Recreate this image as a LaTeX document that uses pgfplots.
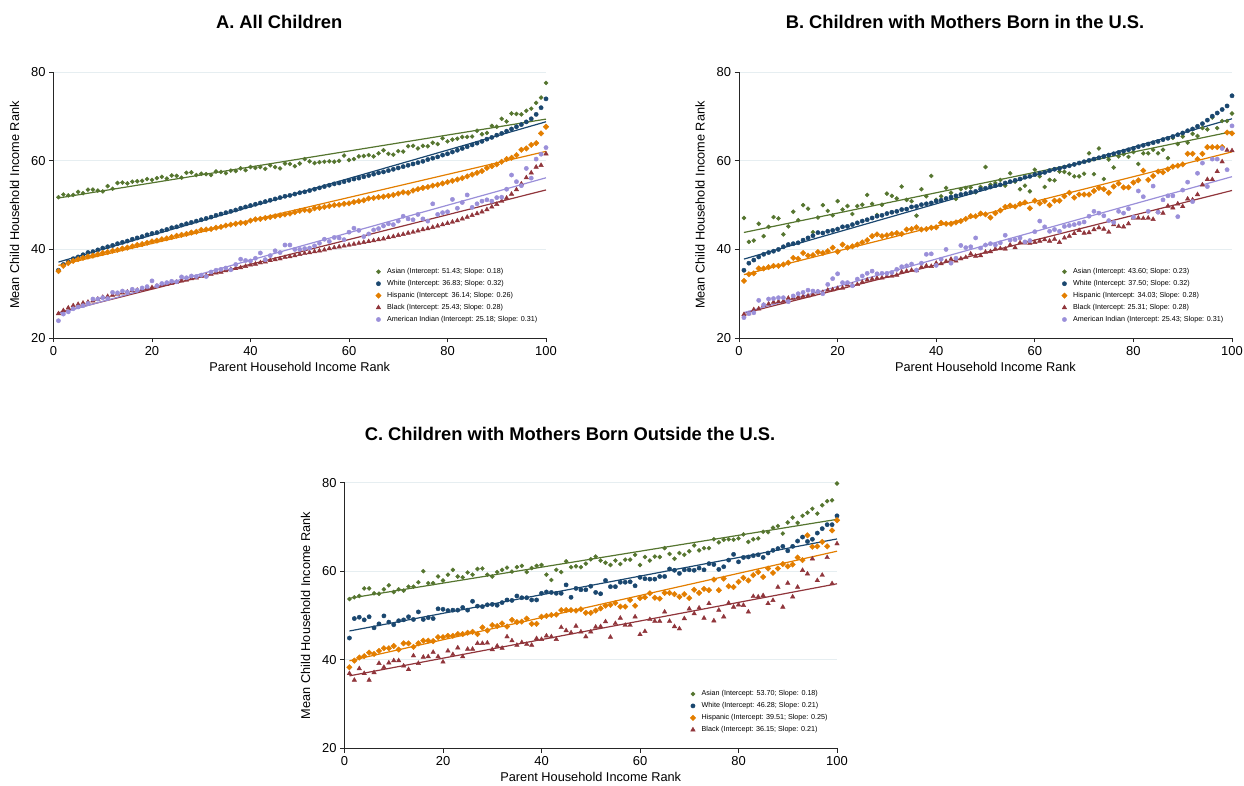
\documentclass[border=0pt]{standalone}
\usepackage{fontspec}
\setmainfont{Liberation Sans}
\usepackage{pgfplots}
\usepackage{pgfplotstable}
\pgfplotsset{compat=1.18}
\definecolor{cAs}{HTML}{55752F}
\definecolor{cWh}{HTML}{1A476F}
\definecolor{cHi}{HTML}{E37E00}
\definecolor{cBl}{HTML}{90353B}
\definecolor{cAI}{HTML}{9A8FD9}
\definecolor{gridc}{HTML}{E6EEF1}

\pgfplotstableread{
x as wh hi bl ai
1 51.8 35.3 35.1 25.5 23.9
2 52.4 36.6 36.3 26.2 25.4
3 52.2 37.2 36.9 26.8 25.9
4 52.3 37.9 37.4 27.3 26.6
5 53.0 38.3 37.8 27.6 27.0
6 52.7 38.8 38.1 27.9 27.3
7 53.5 39.3 38.4 28.1 27.8
8 53.5 39.5 38.6 28.4 28.8
9 53.3 39.9 38.9 28.8 28.8
10 53.1 40.3 39.2 29.2 29.1
11 54.3 40.6 39.4 29.4 28.9
12 53.7 40.9 39.7 29.7 30.3
13 55.0 41.3 39.9 29.9 30.2
14 55.1 41.6 40.2 30.2 30.6
15 54.9 41.9 40.4 30.4 30.4
16 55.3 42.3 40.7 30.7 31.0
17 55.4 42.6 41.0 30.8 30.8
18 55.5 42.9 41.2 31.0 31.3
19 55.9 43.3 41.5 31.2 31.6
20 55.7 43.6 41.8 31.4 32.9
21 56.1 43.8 42.0 31.7 31.8
22 56.4 44.2 42.3 31.9 32.3
23 56.0 44.5 42.5 32.1 32.5
24 56.7 44.9 42.8 32.4 32.8
25 56.6 45.1 43.1 32.6 32.7
26 56.2 45.5 43.3 32.9 33.8
27 57.3 45.8 43.5 33.1 33.6
28 57.4 46.1 43.8 33.4 34.0
29 56.8 46.4 44.0 33.6 33.9
30 57.1 46.7 44.4 33.9 34.2
31 57.0 47.0 44.5 34.1 33.9
32 56.8 47.3 44.6 34.4 34.9
33 57.6 47.7 44.9 34.7 35.3
34 57.5 48.0 45.1 34.9 35.5
35 57.2 48.3 45.4 35.2 35.8
36 57.8 48.6 45.6 35.5 35.4
37 57.7 48.9 45.8 35.7 36.6
38 58.3 49.3 46.0 35.9 37.8
39 57.9 49.6 46.0 36.2 37.5
40 58.6 49.9 46.5 36.5 37.4
41 58.4 50.2 46.8 36.7 38.0
42 58.6 50.5 46.9 37.0 39.2
43 58.2 50.8 47.1 37.2 37.7
44 59.0 51.1 47.3 37.5 38.6
45 58.6 51.4 47.5 37.7 39.7
46 58.3 51.7 47.7 37.9 39.3
47 59.4 52.0 47.9 38.2 41.0
48 59.3 52.2 48.1 38.4 41.0
49 58.8 52.5 48.4 38.6 40.0
50 59.4 52.8 48.7 38.9 40.0
51 60.4 53.0 48.9 39.1 40.2
52 59.9 53.3 48.8 39.3 40.3
53 59.5 53.6 49.3 39.5 40.8
54 59.7 53.9 49.4 39.7 41.4
55 59.8 54.2 49.6 39.9 42.3
56 59.9 54.5 49.8 40.2 41.8
57 59.8 54.8 50.0 40.4 42.7
58 60.0 55.0 50.1 40.6 42.6
59 61.2 55.3 50.3 40.8 42.2
60 60.2 55.6 50.4 41.0 43.9
61 60.4 55.9 50.7 41.2 44.8
62 61.0 56.1 50.9 41.4 44.3
63 61.1 56.4 51.1 41.6 42.9
64 61.3 56.7 51.5 41.8 43.5
65 61.0 57.0 51.6 42.0 44.4
66 61.7 57.3 51.8 42.2 44.7
67 62.4 57.5 51.9 42.4 45.3
68 61.6 57.8 52.1 42.7 45.8
69 61.4 58.1 52.3 42.9 45.6
70 62.2 58.4 52.6 43.2 46.4
71 62.1 58.7 52.9 43.4 47.5
72 63.3 59.0 52.8 43.7 46.9
73 63.4 59.3 53.3 43.9 46.7
74 62.8 59.6 53.6 44.2 47.9
75 63.4 59.9 53.9 44.5 46.9
76 63.3 60.3 54.1 44.7 46.4
77 64.1 60.6 54.4 45.0 50.3
78 63.8 60.9 54.6 45.3 47.9
79 65.1 61.3 54.9 45.6 48.3
80 64.4 61.6 55.2 45.9 48.5
81 64.8 62.0 55.5 46.2 51.3
82 65.0 62.4 55.8 46.5 49.3
83 65.4 62.8 56.1 46.9 50.6
84 65.4 63.2 56.5 47.3 52.3
85 65.5 63.6 56.9 47.7 49.5
86 66.8 64.0 57.3 48.1 50.3
87 66.0 64.4 57.7 48.5 50.9
88 66.3 64.9 58.4 49.0 51.2
89 67.9 65.3 58.8 49.6 50.9
90 67.7 65.8 59.2 50.2 51.7
91 69.5 66.2 59.8 50.9 51.8
92 68.9 66.7 60.4 51.6 53.6
93 70.7 67.2 60.7 52.5 56.8
94 70.6 67.7 61.3 53.5 55.3
95 70.5 68.2 62.5 54.8 54.4
96 71.3 68.8 62.8 56.2 58.3
97 71.8 69.5 63.6 57.3 56.1
98 73.1 70.5 64.0 58.6 60.4
99 74.3 72.0 66.2 59.0 61.5
100 77.6 74.0 67.7 61.6 63.0
}\tabA

\pgfplotstableread{
x as wh hi bl ai
1 47.1 35.3 32.9 25.3 24.6
2 41.7 36.9 34.4 25.5 25.5
3 42.0 37.6 34.6 26.4 25.7
4 45.8 38.3 35.7 26.6 28.5
5 43.0 38.9 35.7 27.4 27.5
6 45.1 39.3 36.0 27.7 28.8
7 47.3 39.6 36.3 28.1 28.9
8 47.0 40.0 36.3 28.2 29.1
9 43.4 40.6 36.6 28.3 29.1
10 45.2 41.1 37.0 29.0 28.2
11 48.5 41.3 38.1 29.0 29.5
12 46.6 41.5 37.9 29.2 30.0
13 50.0 42.1 39.2 29.4 30.3
14 49.2 42.6 38.6 29.5 30.8
15 43.9 43.1 38.7 29.8 30.6
16 47.2 43.8 39.4 30.4 30.5
17 50.0 43.7 39.2 30.3 30.0
18 48.7 44.1 39.6 30.8 32.1
19 47.7 44.3 40.4 30.9 33.4
20 50.9 44.6 39.5 31.2 34.5
21 49.0 45.1 41.1 31.3 32.5
22 49.8 45.2 40.4 32.0 32.5
23 48.0 45.6 40.7 31.9 31.8
24 49.8 46.0 41.1 32.1 33.3
25 50.1 46.4 41.6 32.6 34.0
26 52.3 46.7 42.1 33.1 34.6
27 50.3 47.1 43.0 33.3 35.1
28 47.8 47.5 43.4 33.5 34.5
29 50.1 47.7 43.0 33.6 34.6
30 52.6 48.1 43.2 33.9 34.6
31 52.1 48.4 43.5 34.0 34.8
32 51.5 48.6 43.7 34.2 35.5
33 54.2 49.0 43.5 34.9 36.1
34 51.2 49.1 44.5 35.1 36.3
35 50.9 49.6 44.6 35.3 36.7
36 47.6 49.7 45.0 35.2 35.3
37 53.6 50.1 44.5 36.0 36.9
38 52.0 50.3 44.6 36.3 38.9
39 56.6 50.5 44.9 36.2 39.0
40 51.2 50.9 45.0 36.9 36.4
41 52.0 51.1 46.0 36.8 37.8
42 53.9 51.5 45.8 37.3 40.0
43 52.8 51.8 45.8 37.8 36.9
44 51.4 52.1 46.1 37.4 38.0
45 53.6 52.4 46.4 37.9 40.9
46 53.9 52.6 46.9 38.2 40.4
47 54.0 52.9 47.5 39.0 40.6
48 52.9 53.1 47.5 38.5 42.6
49 54.1 53.6 48.1 38.6 40.3
50 58.6 53.8 47.9 39.4 41.0
51 54.6 54.1 47.2 39.5 41.3
52 55.0 54.4 48.2 40.1 41.0
53 55.7 54.6 48.8 40.2 41.5
54 54.4 55.0 49.6 40.1 43.2
55 57.2 55.3 49.9 41.0 42.1
56 55.3 55.6 49.7 40.4 42.2
57 53.6 55.9 50.3 41.5 42.6
58 54.4 56.3 50.6 41.5 41.7
59 53.1 56.5 49.3 41.4 42.0
60 58.0 56.9 51.0 41.6 44.0
61 56.5 57.2 50.4 41.9 46.4
62 54.1 57.4 50.9 42.2 45.1
63 55.7 57.8 50.0 41.9 44.1
64 55.6 58.1 51.0 42.3 44.5
65 57.6 58.3 51.0 41.6 44.1
66 57.5 58.6 52.0 42.6 45.2
67 57.1 58.9 52.8 43.0 45.4
68 56.5 59.2 51.7 43.6 45.6
69 56.5 59.5 52.4 44.3 45.9
70 57.1 59.8 52.4 43.7 46.2
71 61.7 60.1 52.4 43.8 47.5
72 57.0 60.4 53.2 44.5 48.6
73 62.8 60.7 53.9 44.9 48.2
74 55.9 61.0 53.6 44.6 47.6
75 60.3 61.3 52.8 43.9 46.5
76 58.5 61.6 54.2 45.6 46.1
77 61.0 61.9 54.9 45.2 48.6
78 61.5 62.2 54.0 45.1 48.2
79 60.9 62.5 54.0 45.8 49.2
80 62.0 62.8 55.1 47.1 47.3
81 59.3 63.2 55.6 47.1 53.2
82 61.7 63.5 57.8 47.0 51.9
83 61.7 63.8 55.7 47.1 48.6
84 62.5 64.1 56.6 46.8 54.3
85 61.7 64.4 57.6 48.6 48.4
86 62.5 64.8 57.4 48.2 51.2
87 60.6 65.1 58.1 49.8 52.1
88 65.2 65.5 58.7 49.4 52.1
89 63.8 65.9 58.9 50.3 47.4
90 65.5 66.3 59.2 49.7 53.4
91 64.1 66.8 61.6 51.4 55.2
92 66.1 67.2 61.6 51.2 50.8
93 65.6 67.8 60.4 52.4 57.2
94 67.4 68.4 61.6 54.6 59.5
95 67.1 69.2 63.1 55.8 54.2
96 69.8 70.1 63.1 55.8 60.4
97 67.4 70.8 63.1 57.6 60.4
98 69.0 71.6 63.1 59.8 62.8
99 69.0 72.4 66.4 62.4 58.0
100 70.7 74.7 66.2 62.3 67.9
}\tabB

\pgfplotstableread{
x as wh hi bl
1 53.7 44.9 38.3 36.9
2 54.1 49.3 39.8 35.4
3 54.4 49.6 40.5 38.0
4 56.1 49.0 40.8 36.9
5 56.1 49.7 41.6 35.4
6 55.0 47.2 41.3 37.1
7 54.9 48.1 42.0 39.2
8 55.9 49.9 42.6 38.3
9 56.8 48.5 42.6 39.3
10 55.3 47.9 43.1 39.8
11 55.9 48.8 42.3 39.8
12 55.6 49.0 43.7 38.6
13 56.5 49.7 43.7 37.8
14 56.5 49.1 42.9 40.9
15 57.5 50.8 43.7 39.2
16 60.0 49.1 44.3 40.6
17 57.3 49.5 44.3 40.7
18 57.3 49.3 44.2 41.7
19 58.8 51.5 45.1 40.7
20 57.9 51.4 45.1 39.5
21 59.2 51.1 45.4 42.0
22 60.3 51.2 45.4 41.2
23 58.8 51.2 45.8 42.7
24 58.6 51.8 45.8 40.7
25 59.7 51.2 46.1 42.4
26 59.2 53.2 46.3 42.4
27 60.5 52.1 45.8 43.7
28 60.6 52.0 47.3 43.7
29 59.2 52.4 46.6 43.8
30 58.8 52.5 47.8 42.3
31 59.8 52.3 47.6 43.1
32 60.3 52.9 48.2 42.6
33 60.8 53.5 47.5 45.2
34 59.9 53.4 49.0 44.3
35 60.9 54.4 48.5 43.3
36 61.2 54.0 48.6 43.9
37 59.8 54.0 49.3 43.5
38 60.7 53.5 48.1 43.3
39 61.2 53.5 48.1 44.8
40 61.4 55.0 49.7 44.6
41 59.2 55.3 49.9 45.4
42 58.0 55.2 50.1 45.2
43 60.3 55.0 50.2 44.6
44 59.8 55.0 51.2 47.3
45 62.2 56.9 51.2 46.6
46 60.9 54.1 51.2 46.1
47 61.1 56.1 51.1 47.6
48 60.9 55.8 51.4 46.3
49 61.7 55.8 50.6 45.2
50 62.7 56.6 50.6 46.3
51 63.3 55.2 51.1 47.4
52 62.4 54.9 51.6 47.5
53 61.9 57.9 52.2 48.6
54 61.4 56.5 52.4 45.1
55 62.4 56.5 52.8 48.2
56 61.6 57.5 52.0 49.4
57 62.6 57.5 52.0 47.8
58 62.6 57.6 53.5 47.8
59 63.7 56.7 52.2 49.7
60 61.4 58.6 53.9 45.7
61 63.2 58.3 54.1 46.4
62 62.4 58.2 55.0 49.1
63 63.3 58.2 54.0 48.7
64 63.2 58.8 53.8 48.7
65 65.2 58.8 55.1 50.8
66 63.9 60.5 55.1 48.7
67 62.8 60.2 54.8 47.5
68 64.1 59.5 54.2 47.0
69 63.7 60.3 54.8 49.3
70 64.5 60.3 53.9 51.5
71 65.8 60.2 55.8 50.4
72 64.7 60.7 55.1 51.7
73 65.2 60.3 56.0 49.4
74 65.2 61.7 55.7 52.7
75 67.2 61.5 58.1 48.8
76 66.5 60.4 55.7 51.2
77 67.1 61.0 58.3 49.7
78 67.2 62.5 56.6 52.8
79 67.1 63.8 56.4 51.9
80 67.4 62.1 57.6 52.4
81 68.3 63.1 58.5 52.3
82 66.6 63.2 57.9 50.8
83 67.2 63.5 59.1 54.3
84 67.4 63.7 59.8 54.2
85 68.9 63.1 58.7 54.5
86 68.8 64.1 60.6 52.7
87 69.8 64.7 59.6 53.4
88 70.2 65.1 60.6 56.4
89 68.5 65.6 61.6 51.9
90 71.0 64.6 61.1 57.3
91 72.1 65.6 61.5 54.2
92 70.9 66.8 63.1 56.4
93 72.5 67.7 62.5 60.2
94 73.2 66.7 68.1 59.4
95 74.1 67.2 65.5 62.8
96 73.0 68.6 65.6 57.9
97 74.9 69.6 66.6 59.1
98 75.8 70.5 65.6 63.1
99 76.0 70.5 69.2 57.2
100 79.8 72.5 71.5 66.2
}\tabC

\pgfplotsset{
  panel/.style={
    scale only axis, width=492.5bp, height=265.7bp,
    xmin=0, xmax=100, ymin=20, ymax=80, clip=false,
    xtick={0,20,40,60,80,100}, ytick={20,40,60,80},
    axis x line*=bottom, axis y line*=left,
    axis line style={line width=0.9bp, color=black!85},
    tick style={line width=0.9bp, color=black!85},
    tick align=outside, major tick length=4.5bp,
    ymajorgrids, grid style={line width=0.9bp, color=gridc},
    tick label style={font=\fontsize{13}{15}\selectfont},
    /pgf/number format/assume math mode=true,
    label style={font=\fontsize{12.8}{15}\selectfont},
    xlabel={Parent Household Income Rank},
    ylabel={Mean Child Household Income Rank},
    xlabel style={at={(axis description cs:0.5,-0.109)}, anchor=center},
    ylabel style={at={(axis description cs:-0.079,0.5)}, anchor=center},
    legend cell align=left,
    legend style={draw=none, fill=none, font=\fontsize{7.2}{8.6}\selectfont,
      inner sep=0pt, row sep=3.25bp, column sep=5bp, nodes={inner sep=1bp},
      anchor=north west},
    legend image code/.code={\draw[mark repeat=2,mark phase=2,#1] plot coordinates {(0bp,0bp) (4bp,0bp) (8bp,0bp)};},
  },
  sAs/.style={only marks, mark=square*, mark options={rotate=45}, mark size=1.45bp, color=cAs},
  sWh/.style={only marks, mark=*, mark size=2.15bp, color=cWh},
  sHi/.style={only marks, mark=square*, mark options={rotate=45}, mark size=1.95bp, color=cHi},
  sBl/.style={only marks, mark=triangle*, mark size=2.6bp, color=cBl},
  sAI/.style={only marks, mark=*, mark size=2.15bp, color=cAI},
  fit/.style={no marks, line width=1.2bp, forget plot},
}

\begin{document}
\begin{tikzpicture}
\path[use as bounding box] (0,0) rectangle (1244bp,786bp);

\node[anchor=base, font=\bfseries\fontsize{18.4}{20}\selectfont] at (279.2bp,757.7bp) {A. All Children};
\node[anchor=base, font=\bfseries\fontsize{18.4}{20}\selectfont] at (965bp,757.7bp) {B. Children with Mothers Born in the U.S.};
\node[anchor=base, font=\bfseries\fontsize{18.4}{20}\selectfont] at (570bp,345.5bp) {C. Children with Mothers Born Outside the U.S.};

% Panel A
\begin{axis}[panel, at={(53.5bp,448bp)}, anchor=south west,
  legend style={at={(axis description cs:0.6538,0.2664)}}]
\addplot[sAs] table[x=x,y=as] {\tabA};
\addlegendentry{Asian (Intercept: 51.43; Slope: 0.18)}
\addplot[sWh] table[x=x,y=wh] {\tabA};
\addlegendentry{White (Intercept: 36.83; Slope: 0.32)}
\addplot[sHi] table[x=x,y=hi] {\tabA};
\addlegendentry{Hispanic (Intercept: 36.14; Slope: 0.26)}
\addplot[sBl] table[x=x,y=bl] {\tabA};
\addlegendentry{Black (Intercept: 25.43; Slope: 0.28)}
\addplot[sAI] table[x=x,y=ai] {\tabA};
\addlegendentry{American Indian (Intercept: 25.18; Slope: 0.31)}
\addplot[fit, color=cAs] coordinates {(1,51.61) (100,69.43)};
\addplot[fit, color=cWh] coordinates {(1,37.15) (100,68.83)};
\addplot[fit, color=cHi] coordinates {(1,36.40) (100,62.14)};
\addplot[fit, color=cBl] coordinates {(1,25.71) (100,53.43)};
\addplot[fit, color=cAI] coordinates {(1,25.49) (100,56.18)};
\end{axis}

% Panel B
\begin{axis}[panel, width=493bp, at={(739bp,448bp)}, anchor=south west,
  legend style={at={(axis description cs:0.6541,0.2664)}}]
\addplot[sAs] table[x=x,y=as] {\tabB};
\addlegendentry{Asian (Intercept: 43.60; Slope: 0.23)}
\addplot[sWh] table[x=x,y=wh] {\tabB};
\addlegendentry{White (Intercept: 37.50; Slope: 0.32)}
\addplot[sHi] table[x=x,y=hi] {\tabB};
\addlegendentry{Hispanic (Intercept: 34.03; Slope: 0.28)}
\addplot[sBl] table[x=x,y=bl] {\tabB};
\addlegendentry{Black (Intercept: 25.31; Slope: 0.28)}
\addplot[sAI] table[x=x,y=ai] {\tabB};
\addlegendentry{American Indian (Intercept: 25.43; Slope: 0.31)}
\addplot[fit, color=cAs] coordinates {(1,43.83) (100,66.60)};
\addplot[fit, color=cWh] coordinates {(1,37.82) (100,69.50)};
\addplot[fit, color=cHi] coordinates {(1,34.31) (100,62.03)};
\addplot[fit, color=cBl] coordinates {(1,25.59) (100,53.31)};
\addplot[fit, color=cAI] coordinates {(1,25.74) (100,56.43)};
\end{axis}

% Panel C
\begin{axis}[panel, at={(344.5bp,37.7bp)}, anchor=south west,
  legend style={at={(axis description cs:0.7015,0.2216)}}]
\addplot[sAs] table[x=x,y=as] {\tabC};
\addlegendentry{Asian (Intercept: 53.70; Slope: 0.18)}
\addplot[sWh] table[x=x,y=wh] {\tabC};
\addlegendentry{White (Intercept: 46.28; Slope: 0.21)}
\addplot[sHi] table[x=x,y=hi] {\tabC};
\addlegendentry{Hispanic (Intercept: 39.51; Slope: 0.25)}
\addplot[sBl] table[x=x,y=bl] {\tabC};
\addlegendentry{Black (Intercept: 36.15; Slope: 0.21)}
\addplot[fit, color=cAs] coordinates {(1,53.88) (100,71.70)};
\addplot[fit, color=cWh] coordinates {(1,46.49) (100,67.28)};
\addplot[fit, color=cHi] coordinates {(1,39.76) (100,64.51)};
\addplot[fit, color=cBl] coordinates {(1,36.36) (100,57.15)};
\end{axis}
\end{tikzpicture}
\end{document}
